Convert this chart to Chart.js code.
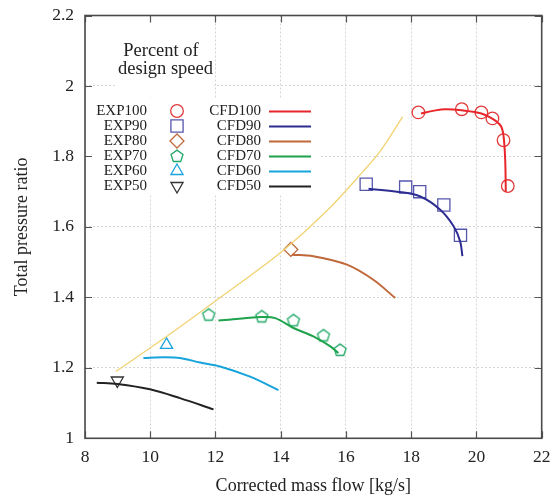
<!DOCTYPE html>
<html>
<head>
<meta charset="utf-8">
<script src="https://cdn.jsdelivr.net/npm/chart.js@4/dist/chart.umd.min.js"></script>
<style>
  html, body { margin: 0; padding: 0; background: #fff; }
  #wrap { width: 552px; height: 499px; }
</style>
</head>
<body>
<div id="wrap"><canvas id="c" width="552" height="499"></canvas></div>
<script>
// Axis ticks
const xTicks = [8, 10, 12, 14, 16, 18, 20, 22];
const yTicks = [1, 1.2, 1.4, 1.6, 1.8, 2, 2.2];

// Series names
const expNames = ['EXP100', 'EXP90', 'EXP80', 'EXP70', 'EXP60', 'EXP50'];
const cfdNames = ['CFD100', 'CFD90', 'CFD80', 'CFD70', 'CFD60', 'CFD50'];
const legendTitle = ['Percent of', 'design speed'];

// Measured points (corrected mass flow [kg/s], total pressure ratio)
const exp100Flow = [18.22, 19.55, 20.15, 20.49, 20.83, 20.96];
const exp100PR   = [1.925, 1.934, 1.925, 1.908, 1.846, 1.716];
const exp90Flow  = [16.62, 17.83, 18.26, 19.0, 19.51];
const exp90PR    = [1.721, 1.713, 1.70, 1.662, 1.576];
const exp80Flow  = [14.31];
const exp80PR    = [1.536];
const exp70Flow  = [11.79, 13.42, 14.39, 15.31, 15.82];
const exp70PR    = [1.351, 1.346, 1.335, 1.292, 1.251];
const exp60Flow  = [10.5];
const exp60PR    = [1.265];
const exp50Flow  = [8.99];
const exp50PR    = [1.164];

// Computed speed lines
const cfd100Flow = [18.3, 18.7, 19.04, 19.55, 20.15, 20.52, 20.75, 20.83, 20.88, 20.9];
const cfd100PR   = [1.922, 1.930, 1.934, 1.931, 1.922, 1.905, 1.886, 1.858, 1.792, 1.70];
const cfd90Flow  = [16.69, 17.56, 18.26, 18.89, 19.3, 19.5, 19.57];
const cfd90PR    = [1.708, 1.70, 1.687, 1.649, 1.602, 1.559, 1.517];
const cfd80Flow  = [14.34, 15.0, 16.03, 16.84, 17.51];
const cfd80PR    = [1.521, 1.517, 1.493, 1.45, 1.398];
const cfd70Flow  = [12.09, 13.42, 13.83, 14.39, 15.0, 15.52, 15.77];
const cfd70PR    = [1.334, 1.344, 1.341, 1.313, 1.289, 1.261, 1.242];
const cfd60Flow  = [9.79, 10.4, 10.91, 11.53, 12.14, 13.06, 13.93];
const cfd60PR    = [1.228, 1.23, 1.228, 1.215, 1.204, 1.175, 1.137];
const cfd50Flow  = [8.36, 8.99, 9.99, 10.91, 11.94];
const cfd50PR    = [1.158, 1.154, 1.139, 1.114, 1.082];

// Surge line
const surgeFlow = [8.95, 10.5, 11.99, 13.98, 15.46, 16.54, 17.05, 17.74];
const surgePR   = [1.19, 1.289, 1.389, 1.526, 1.65, 1.759, 1.815, 1.913];

const pts = (xs, ys) => xs.map((x, i) => ({ x: x, y: ys[i] }));

const SERIF = '"Liberation Serif", "DejaVu Serif", serif';
const TEXT = '#222';

// Pentagon marker (not built into Chart.js)
function pentagonImage(color, r, lw) {
  const s = Math.ceil(2 * r + 2 * lw + 2);
  const cv = document.createElement('canvas');
  cv.width = s; cv.height = s;
  const g = cv.getContext('2d');
  g.strokeStyle = color; g.lineWidth = lw; g.lineJoin = 'miter';
  g.beginPath();
  for (let k = 0; k < 5; k++) {
    const a = -Math.PI / 2 + k * 2 * Math.PI / 5;
    const px = s / 2 + r * Math.cos(a), py = s / 2 + 0.4 + r * Math.sin(a);
    if (k === 0) g.moveTo(px, py); else g.lineTo(px, py);
  }
  g.closePath(); g.stroke();
  return cv;
}

const expStyle = [
  { color: '#e23a3a', style: 'circle', radius: 6.3, rotation: 0 },
  { color: '#5555ad', style: 'rect', radius: 8.6, rotation: 0 },
  { color: '#c0693b', style: 'rectRot', radius: 7, rotation: 0 },
  { color: '#22a868', style: pentagonImage('#22a868', 6.3, 1.3), radius: 7, rotation: 0 },
  { color: '#1aa3dc', style: 'triangle', radius: 7, rotation: 0 },
  { color: '#333333', style: 'triangle', radius: 7, rotation: 180 }
];
const cfdColor = ['#e8262b', '#2d2d92', '#c0683a', '#1fa24c', '#17a3dc', '#222222'];

const expData = [pts(exp100Flow, exp100PR), pts(exp90Flow, exp90PR), pts(exp80Flow, exp80PR),
                 pts(exp70Flow, exp70PR), pts(exp60Flow, exp60PR), pts(exp50Flow, exp50PR)];
const cfdData = [pts(cfd100Flow, cfd100PR), pts(cfd90Flow, cfd90PR), pts(cfd80Flow, cfd80PR),
                 pts(cfd70Flow, cfd70PR), pts(cfd60Flow, cfd60PR), pts(cfd50Flow, cfd50PR)];

const datasets = [];
datasets.push({
  label: 'Surge', data: pts(surgeFlow, surgePR), showLine: true,
  borderColor: '#f1d372', borderWidth: 1.3, pointRadius: 0, tension: 0.3, fill: false
});
cfdData.forEach((d, i) => datasets.push({
  label: cfdNames[i], data: d, showLine: true, borderColor: cfdColor[i],
  borderWidth: 2, pointRadius: 0, tension: 0.35, fill: false
}));
expData.forEach((d, i) => datasets.push({
  label: expNames[i], data: d, showLine: false,
  pointStyle: expStyle[i].style, pointRadius: expStyle[i].radius,
  pointRotation: expStyle[i].rotation,
  pointBorderColor: expStyle[i].color, pointBackgroundColor: 'rgba(0,0,0,0)',
  pointBorderWidth: 1.3, pointHoverRadius: expStyle[i].radius
}));

const framePlugin = {
  id: 'frame',
  beforeDatasetsDraw(chart) {
    // opaque key boxes over the grid
    const c = chart.ctx;
    c.save();
    c.fillStyle = '#fff';
    c.fillRect(117, 17, 97, 80);
    c.fillRect(88, 99, 232, 96);
    c.restore();
  },
  afterDraw(chart) {
    const c = chart.ctx;
    const a = chart.chartArea;
    const xs = chart.scales.x, ys = chart.scales.y;
    c.save();
    // inward tick marks on all four sides
    c.strokeStyle = '#555'; c.lineWidth = 1.2;
    const tl = 7;
    c.beginPath();
    xTicks.forEach(v => {
      const px = Math.round(xs.getPixelForValue(v)) + 0.5;
      c.moveTo(px, a.bottom); c.lineTo(px, a.bottom - tl);
      c.moveTo(px, a.top); c.lineTo(px, a.top + tl);
    });
    yTicks.forEach(v => {
      const py = Math.round(ys.getPixelForValue(v)) + 0.5;
      c.moveTo(a.left, py); c.lineTo(a.left + tl, py);
      c.moveTo(a.right, py); c.lineTo(a.right - tl, py);
    });
    c.stroke();
    // frame
    c.lineWidth = 1.6; c.strokeStyle = '#4a4a4a';
    c.strokeRect(a.left, a.top, a.right - a.left, a.bottom - a.top);

    // axis titles
    c.fillStyle = TEXT;
    c.font = '18px ' + SERIF;
    c.textAlign = 'center'; c.textBaseline = 'middle';
    c.fillText('Corrected mass flow [kg/s]', (a.left + a.right) / 2, 486);
    c.save();
    c.translate(22, (a.top + a.bottom) / 2);
    c.rotate(-Math.PI / 2);
    c.fillText('Total pressure ratio', 0, 0);
    c.restore();

    // key
    c.font = '18.5px ' + SERIF;
    c.fillText(legendTitle[0], 161, 51);
    c.fillText(legendTitle[1], 165.5, 69);
    c.font = '15px ' + SERIF;
    const rowY = [111, 126, 141, 156, 171, 186];
    rowY.forEach((y, i) => {
      c.textAlign = 'right';
      c.fillStyle = TEXT;
      c.fillText(expNames[i], 147, y);
      c.fillText(cfdNames[i], 261, y);
      const st = expStyle[i];
      if (typeof st.style === 'string') {
        c.strokeStyle = st.color; c.lineWidth = 1.3; c.fillStyle = 'rgba(0,0,0,0)';
        Chart.helpers.drawPoint(c, { pointStyle: st.style, radius: st.radius, rotation: st.rotation, borderWidth: 1.3 }, 177, y);
      } else {
        c.drawImage(st.style, 177 - st.style.width / 2, y - st.style.height / 2);
      }
      c.strokeStyle = cfdColor[i]; c.lineWidth = 2;
      c.beginPath(); c.moveTo(269, y + 0.5); c.lineTo(311, y + 0.5); c.stroke();
    });
    c.restore();
  }
};

new Chart(document.getElementById('c'), {
  type: 'scatter',
  data: { datasets: datasets },
  options: {
    responsive: false,
    devicePixelRatio: 1,
    animation: false,
    layout: { padding: { left: 0, right: 10.3, top: 15.5, bottom: 0 } },
    plugins: { legend: { display: false }, tooltip: { enabled: false } },
    scales: {
      x: {
        type: 'linear', min: 8, max: 22,
        afterBuildTicks: s => { s.ticks = xTicks.map(v => ({ value: v })); },
        afterFit: s => { s.height = 60.7; s.paddingLeft = 0; s.paddingRight = 0; },
        ticks: { font: { family: SERIF, size: 17.5 }, color: TEXT, padding: 9, maxRotation: 0 },
        grid: { color: '#d6d6d6', lineWidth: 1, drawTicks: false },
        border: { display: false, dash: [2, 2] }
      },
      y: {
        type: 'linear', min: 1, max: 2.2,
        afterBuildTicks: s => { s.ticks = yTicks.map(v => ({ value: v })); },
        afterFit: s => { s.width = 85; s.paddingTop = 0; s.paddingBottom = 0; },
        ticks: {
          font: { family: SERIF, size: 17.5 }, color: TEXT, padding: 11,
          callback: v => String(Math.round(v * 10) / 10)
        },
        grid: { color: '#d6d6d6', lineWidth: 1, drawTicks: false },
        border: { display: false, dash: [2, 2] }
      }
    }
  },
  plugins: [framePlugin]
});
</script>
</body>
</html>
